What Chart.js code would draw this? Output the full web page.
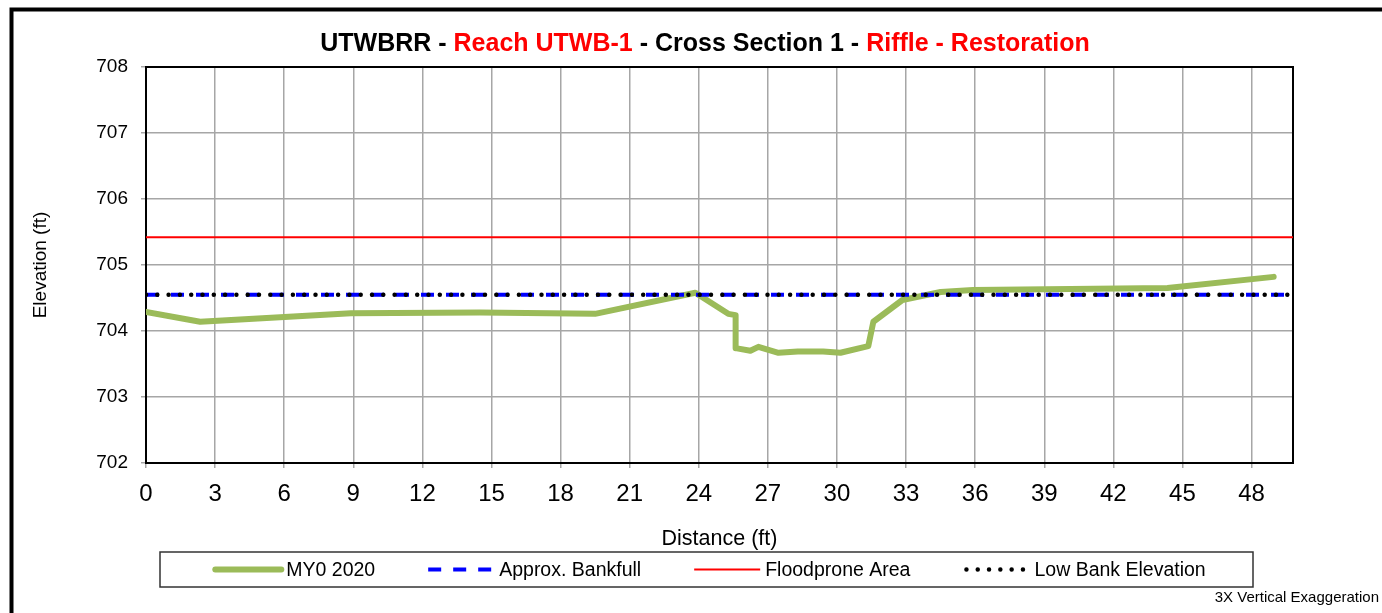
<!DOCTYPE html>
<html>
<head>
<meta charset="utf-8">
<title>UTWBRR Cross Section 1</title>
<script src="https://cdn.jsdelivr.net/npm/chart.js@4"></script>
<style>
	body { margin: 0; background: #fff; }
	#box { width: 1382px; height: 613px; }
</style>
</head>
<body>
<div id="box"><canvas id="xsChart" width="1382" height="613"></canvas></div>
<script>
/* cross section survey */
var distance = [0, 2.35, 8.9, 14.5, 19.5, 23.85, 25.28, 25.6, 25.6, 26.24, 26.59, 27.46, 28.3, 29.4, 30.15, 31.36, 31.58, 32.84, 34.5, 35.9, 44.35, 48.96];
var elevation = [704.29, 704.14, 704.27, 704.28, 704.26, 704.58, 704.26, 704.24, 703.74, 703.70, 703.76, 703.67, 703.69, 703.69, 703.67, 703.77, 704.14, 704.47, 704.59, 704.62, 704.65, 704.82];
var lineExtent = [0, 49.8];
var bankfull = [704.55, 704.55];
var floodprone = [705.42, 705.42];
var lowBank = [704.55, 704.55];
var xTicks = [0, 3, 6, 9, 12, 15, 18, 21, 24, 27, 30, 33, 36, 39, 42, 45, 48];
var yTicks = [702, 703, 704, 705, 706, 707, 708];
var titleParts = [
	["UTWBRR - ", "#000"],
	["Reach UTWB-1", "#ff0000"],
	[" - Cross Section 1 - ", "#000"],
	["Riffle - Restoration", "#ff0000"]
];

var FONT = "'Liberation Sans', Arial, sans-serif";

function pts(xs, ys) {
	return xs.map(function(x, i) { return { x: x, y: ys[i] }; });
}

var framePlugin = {
	id: "frame",
	beforeDraw: function(chart) {
		var ctx = chart.ctx;
		ctx.save();
		ctx.fillStyle = "#fff";
		ctx.fillRect(0, 0, chart.width, chart.height);
		ctx.strokeStyle = "#000";
		ctx.lineWidth = 4;
		ctx.strokeRect(11.5, 9.5, 1500, 800);
		ctx.restore();
	},
	beforeDatasetsDraw: function(chart) {
		var a = chart.chartArea, ctx = chart.ctx;
		ctx.save();
		ctx.strokeStyle = "#000";
		ctx.lineWidth = 2;
		ctx.strokeRect(a.left, a.top, a.right - a.left, a.bottom - a.top);
		ctx.restore();
	},
	afterDraw: function(chart) {
		var ctx = chart.ctx;
		ctx.save();
		// title in two colours
		ctx.font = "bold 25px " + FONT;
		ctx.textBaseline = "middle";
		var total = 0;
		titleParts.forEach(function(p) { total += ctx.measureText(p[0]).width; });
		var x = 705 - total / 2;
		titleParts.forEach(function(p) {
			ctx.fillStyle = p[1];
			ctx.fillText(p[0], x, 44);
			x += ctx.measureText(p[0]).width;
		});

		// legend box
		var bx = 160, by = 552, bw = 1093, bh = 35;
		ctx.strokeStyle = "#333";
		ctx.lineWidth = 1.5;
		ctx.strokeRect(bx, by, bw, bh);
		ctx.font = "19.5px " + FONT;
		var sample = 66, gap = 5, spacing = 53;
		var items = chart.data.datasets;
		var width = 0;
		items.forEach(function(d, i) {
			width += sample + gap + ctx.measureText(d.label).width;
			if (i < items.length - 1) width += spacing;
		});
		var lx = bx + bw / 2 - width / 2 + 4, ly = by + bh / 2;
		items.forEach(function(d) {
			ctx.save();
			ctx.strokeStyle = d.borderColor;
			ctx.lineWidth = d.borderWidth;
			ctx.lineCap = d.borderCapStyle || "butt";
			ctx.setLineDash(d.borderDash || []);
			ctx.beginPath();
			if (d.legendDots) {
				ctx.moveTo(lx + 3, ly);
			} else {
				ctx.moveTo(lx, ly);
			}
			ctx.lineTo(lx + sample, ly);
			ctx.stroke();
			ctx.restore();
			ctx.fillStyle = "#000";
			ctx.textBaseline = "middle";
			ctx.fillText(d.label, lx + sample + gap, ly + 1);
			lx += sample + gap + ctx.measureText(d.label).width + spacing;
		});

		ctx.font = "15px " + FONT;
		ctx.textAlign = "right";
		ctx.fillText("3X Vertical Exaggeration", 1379, 598);
		ctx.restore();
	}
};

new Chart(document.getElementById("xsChart"), {
	"type" : "scatter",
	"data" : {
		"datasets" : [ {
			"label" : "MY0 2020",
			"data" : pts(distance, elevation),
			"showLine" : true,
			"borderColor" : "#9bbb59",
			"borderWidth" : 6,
			"borderCapStyle" : "round",
			"borderJoinStyle" : "round",
			"pointRadius" : 0,
			"order" : 4
		}, {
			"label" : "Approx. Bankfull",
			"data" : pts(lineExtent, bankfull),
			"showLine" : true,
			"borderColor" : "#0000ff",
			"borderWidth" : 4,
			"borderDash" : [13, 12],
			"pointRadius" : 0,
			"order" : 3
		}, {
			"label" : "Floodprone Area",
			"data" : pts(lineExtent, floodprone),
			"showLine" : true,
			"borderColor" : "#ff0000",
			"borderWidth" : 2,
			"pointRadius" : 0,
			"order" : 2
		}, {
			"label" : "Low Bank Elevation",
			"data" : pts(lineExtent, lowBank),
			"showLine" : true,
			"borderColor" : "#000",
			"borderWidth" : 4.5,
			"borderDash" : [0, 11.3],
			"borderCapStyle" : "round",
			"legendDots" : true,
			"pointRadius" : 0,
			"order" : 1
		} ]
	},
	"options" : {
		"responsive" : false,
		"animation" : false,
		"layout" : { "padding" : { "left" : 0, "right" : 89, "top" : 67, "bottom" : 60 } },
		"plugins" : {
			"legend" : { "display" : false },
			"tooltip" : { "enabled" : false }
		},
		"scales" : {
			"x" : {
				"type" : "linear",
				"min" : lineExtent[0],
				"max" : lineExtent[1],
				"afterBuildTicks" : function(s) { s.ticks = xTicks.map(function(v) { return { value: v }; }); },
				"afterFit" : function(s) { s.height = 90; },
				"ticks" : { "color" : "#000", "padding" : 12, "font" : { "size" : 24, "family" : FONT } },
				"grid" : { "color" : "#a6a6a6", "lineWidth" : 1.5, "tickLength" : 5 },
				"border" : { "color" : "#000", "width" : 2 },
				"title" : { "display" : true, "text" : "Distance (ft)", "color" : "#000",
					"font" : { "size" : 21.5, "family" : FONT }, "padding" : { "top" : 0, "bottom" : 1 } }
			},
			"y" : {
				"min" : yTicks[0],
				"max" : yTicks[yTicks.length - 1],
				"afterBuildTicks" : function(s) { s.ticks = yTicks.map(function(v) { return { value: v }; }); },
				"afterFit" : function(s) { s.width = 146; },
				"ticks" : { "color" : "#000", "padding" : 13, "font" : { "size" : 19, "family" : FONT } },
				"grid" : { "color" : "#a6a6a6", "lineWidth" : 1.5, "tickLength" : 5 },
				"border" : { "color" : "#000", "width" : 2 },
				"title" : { "display" : true, "text" : "Elevation (ft)", "color" : "#000",
					"font" : { "size" : 19, "family" : FONT }, "padding" : { "top" : 29, "bottom" : 0 } }
			}
		}
	},
	"plugins" : [ framePlugin ]
});
</script>
</body>
</html>
